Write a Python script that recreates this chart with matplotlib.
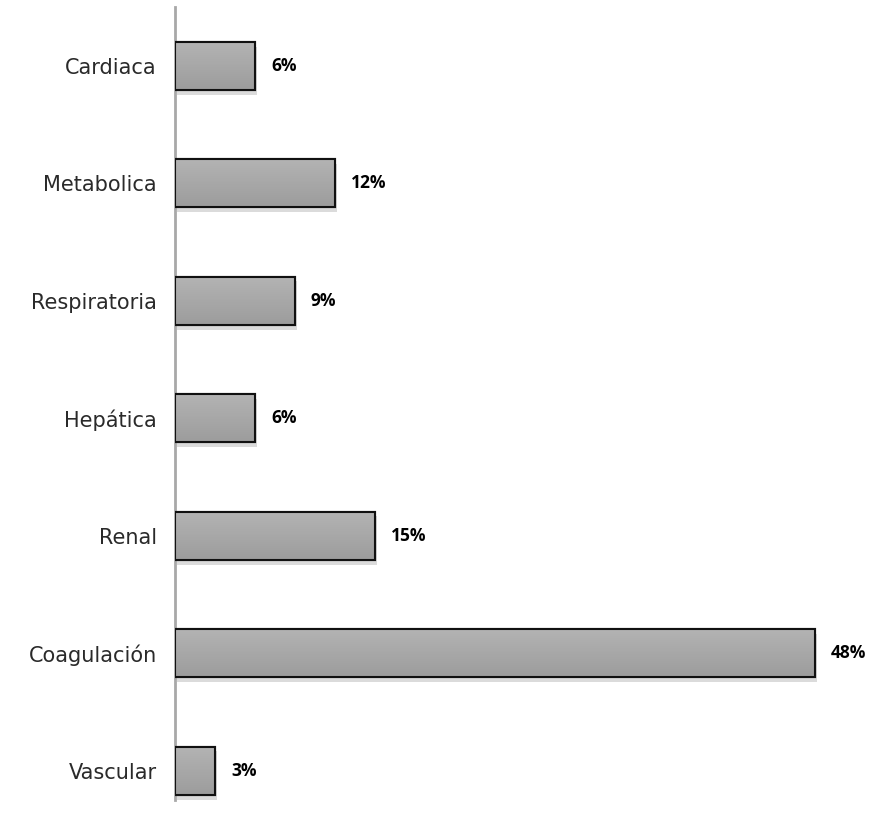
import numpy as np
import matplotlib
matplotlib.use("Agg")
import matplotlib.pyplot as plt
import matplotlib.patheffects as pe

categories = ["Cardiaca", "Metabolica", "Respiratoria", "Hepática", "Renal", "Coagulación", "Vascular"]
values = [6, 12, 9, 6, 15, 48, 3]
value_labels = ["6%", "12%", "9%", "6%", "15%", "48%", "3%"]

fig = plt.figure(figsize=(8.76, 8.27), dpi=100)
ax = fig.add_axes([175 / 876, 27 / 827, (860 - 175) / 876, (820 - 27) / 827])

ypos = np.arange(len(categories))
bars = ax.barh(ypos, values, height=0.41, color="#a6a6a6", edgecolor="black", linewidth=1.5,
               zorder=3)

# vertical gradient inside each bar + soft shadow
cmap = matplotlib.colors.LinearSegmentedColormap.from_list("g", ["#b4b4b4", "#9c9c9c"])
grad = np.linspace(0, 1, 100).reshape(-1, 1)
for b in bars:
    b.set_path_effects([pe.SimplePatchShadow(offset=(1.5, -3.5), shadow_rgbFace="#999999", alpha=0.35),
                        pe.Normal()])
    x0, y0 = b.get_x(), b.get_y()
    w, h = b.get_width(), b.get_height()
    im = ax.imshow(grad, cmap=cmap, extent=(x0, x0 + w, y0, y0 + h), aspect="auto",
                   zorder=3.5, origin="lower")
    im.set_clip_path(b)
    ax.add_patch(plt.Rectangle((x0, y0), w, h, fill=False, edgecolor="#111111", linewidth=1.5, zorder=4))

for y, v, lab in zip(ypos, values, value_labels):
    ax.annotate(lab, (v, y), xytext=(11.5, 0), textcoords="offset points", va="center", ha="left",
                fontsize=12.5, fontweight="bold", family="Open Sans")

ax.set_xlim(0, (860 - 175) / (640 / 48))
ax.set_ylim(len(categories) - 0.75, -0.5)
ax.set_yticks(ypos)
ax.set_yticklabels(categories, fontsize=15, family="DejaVu Sans", color="#2a2a2a")
ax.tick_params(axis="y", length=0, pad=13)
ax.set_xticks([])
for s in ["top", "right", "bottom"]:
    ax.spines[s].set_visible(False)
ax.spines["left"].set_color("#a8a8a8")
ax.spines["left"].set_linewidth(2)

fig.savefig("out.png", dpi=100)
